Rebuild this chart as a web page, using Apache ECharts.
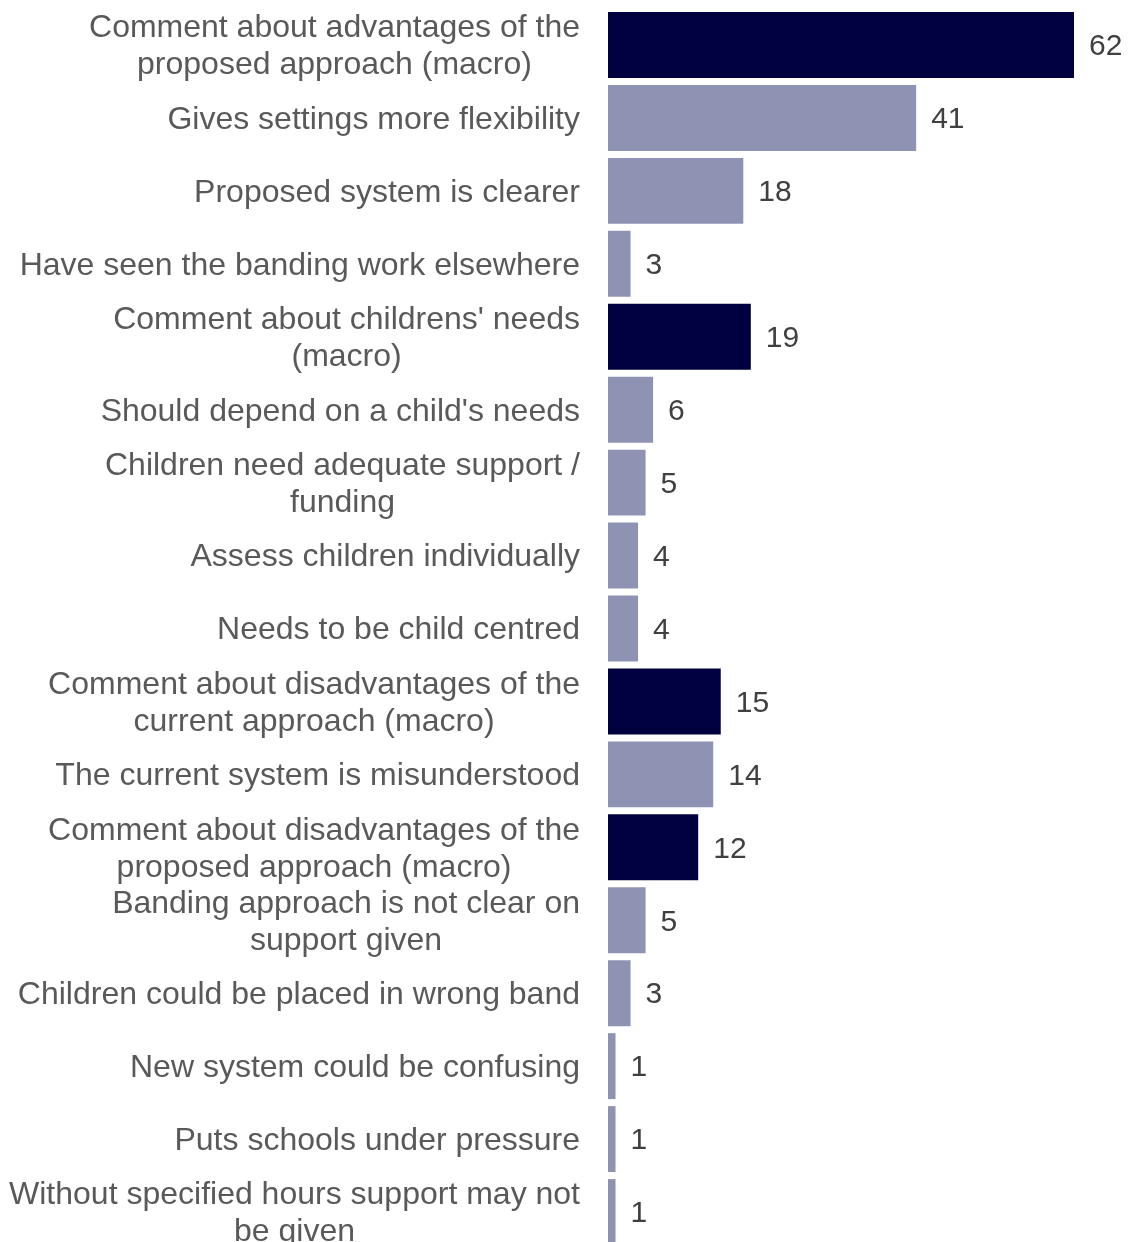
<!DOCTYPE html>
<html>
<head>
<meta charset="utf-8">
<script src="https://cdn.jsdelivr.net/npm/echarts@6/dist/echarts.min.js"></script>
<style>
html,body{margin:0;padding:0;background:#fff;overflow:hidden;}
#chart{width:1132px;height:1262px;}
</style>
</head>
<body>
<div id="chart"></div>
<script>
const categories = [
  "Comment about advantages of the\nproposed approach (macro)",
  "Gives settings more flexibility",
  "Proposed system is clearer",
  "Have seen the banding work elsewhere",
  "Comment about childrens' needs\n(macro)",
  "Should depend on a child's needs",
  "Children need adequate support /\nfunding",
  "Assess children individually",
  "Needs to be child centred",
  "Comment about disadvantages of the\ncurrent approach (macro)",
  "The current system is misunderstood",
  "Comment about disadvantages of the\nproposed approach (macro)",
  "Banding approach is not clear on\nsupport given",
  "Children could be placed in wrong band",
  "New system could be confusing",
  "Puts schools under pressure",
  "Without specified hours support may not\nbe given"
];
const values = [62, 41, 18, 3, 19, 6, 5, 4, 4, 15, 14, 12, 5, 3, 1, 1, 1];
const isMacro = [true, false, false, false, true, false, false, false, false, true, false, true, false, false, false, false, false];

const DARK = '#00003f';
const LIGHT = '#8f93b3';
const FONT = 'Liberation Sans, Arial, sans-serif';

const chart = echarts.init(document.getElementById('chart'));
chart.setOption({
  animation: false,
  grid: { left: 608, top: 8.5, width: 466, height: 1240, containLabel: false },
  xAxis: {
    type: 'value', min: 0, max: 62,
    show: false
  },
  yAxis: {
    type: 'category',
    data: categories,
    inverse: true,
    axisLine: { show: false },
    axisTick: { show: false },
    axisLabel: {
      margin: 28,
      align: 'right',
      padding: [4, 0, 0, 0],
      formatter: v => v.split('\n').map(l => '{c|' + l + '}').join('\n'),
      rich: {
        c: {
          align: 'center',
          fontFamily: FONT,
          fontSize: 32,
          color: '#595959',
          lineHeight: 37
        }
      }
    }
  },
  series: [{
    type: 'bar',
    barCategoryGap: '9.6%',
    data: values.map((v, i) => ({
      value: v,
      itemStyle: { color: isMacro[i] ? DARK : LIGHT }
    })),
    label: {
      show: true,
      position: 'right',
      distance: 15,
      offset: [0, 2],
      fontFamily: FONT,
      fontSize: 30,
      color: '#404040'
    }
  }]
});
</script>
</body>
</html>
